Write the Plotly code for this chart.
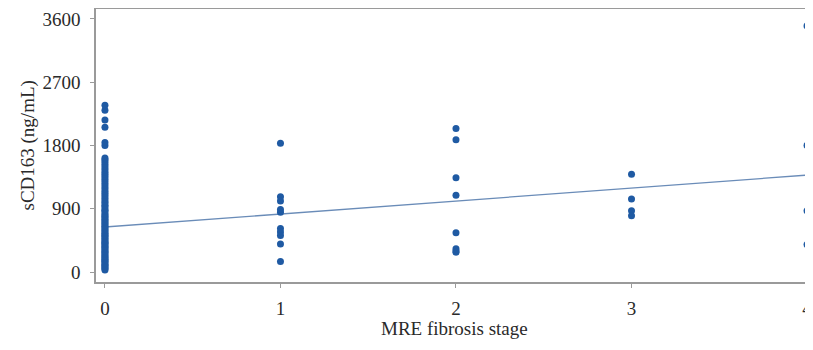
import plotly.graph_objects as go

# MRE fibrosis stage vs sCD163 (ng/mL)
stage0 = [30, 45, 60, 80, 95, 110, 130, 150, 165, 180, 200, 215, 230, 250, 270, 285,
          300, 320, 340, 355, 370, 390, 410, 425, 440, 460, 480, 500, 515, 530, 550,
          570, 590, 610, 630, 650, 670, 690, 710, 730, 750, 770, 790, 810, 830, 860,
          880, 900, 930, 950, 980, 1000, 1030, 1060, 1090, 1120, 1150, 1180, 1210,
          1240, 1270, 1300, 1330, 1360, 1390, 1420, 1450, 1480, 1510, 1540, 1570,
          1600, 1620, 1800, 1840, 2060, 2160, 2300, 2370]
stage1 = [1830, 1070, 1010, 890, 850, 620, 570, 520, 400, 150]
stage2 = [2040, 1880, 1340, 1090, 560, 330, 300, 280]
stage3 = [1390, 1040, 870, 800]
stage4 = [3500, 1800, 870, 390]

fit_x = [0, 4]
fit_y = [640, 1378]

y_ticks = [0, 900, 1800, 2700, 3600]
x_ticks = [0, 1, 2, 3, 4]

x_title = "MRE fibrosis stage"
y_title = "sCD163 (ng/mL)"

xs, ys = [], []
for stage, vals in enumerate([stage0, stage1, stage2, stage3, stage4]):
    xs += [stage] * len(vals)
    ys += vals

fig = go.Figure()
fig.add_trace(go.Scatter(
    x=fit_x, y=fit_y, mode="lines",
    line=dict(color="#6a8cb8", width=1.3), showlegend=False, hoverinfo="skip"))
fig.add_trace(go.Scatter(
    x=xs, y=ys, mode="markers",
    marker=dict(color="#1f5aa3", size=7, line=dict(width=0)),
    showlegend=False))

serif = "Liberation Serif, DejaVu Serif, serif"
# the page body adds an 8px offset, so the figure is sized to fill the rest
fig.update_layout(
    width=805, height=342,
    margin=dict(l=88, r=0, t=1, b=68),
    paper_bgcolor="white", plot_bgcolor="white",
    font=dict(family=serif, size=19, color="#2a2a2a"),
    xaxis=dict(
        range=[-0.051, 4.034], tickvals=x_ticks, ticktext=[str(t) for t in x_ticks],
        showgrid=False, zeroline=False, automargin=False,
        showline=True, linecolor="#9a9a9a", linewidth=1.5, mirror="ticks",
        ticks="outside", ticklen=4, tickcolor="#9a9a9a", tickwidth=1,
        tickfont=dict(size=19), ticklabelstandoff=4,
    ),
    yaxis=dict(
        range=[-142, 3740], tickvals=y_ticks, ticktext=[str(t) for t in y_ticks],
        showgrid=False, zeroline=False, automargin=False,
        showline=True, linecolor="#9a9a9a", linewidth=1.5, mirror=True,
        ticks="outside", ticklen=4, tickcolor="#9a9a9a", tickwidth=1,
        tickfont=dict(size=19), ticklabelstandoff=6,
    ),
    annotations=[
        dict(text=x_title, xref="paper", yref="paper", x=0.5, y=0,
             xanchor="center", yanchor="middle", yshift=-46, showarrow=False,
             font=dict(size=19, family=serif, color="#2a2a2a")),
        dict(text=y_title, xref="paper", yref="paper", x=0, y=0.5,
             xanchor="center", yanchor="middle", xshift=-69, textangle=-90,
             showarrow=False, font=dict(size=19, family=serif, color="#2a2a2a")),
    ],
)

fig.write_html("out.html")
